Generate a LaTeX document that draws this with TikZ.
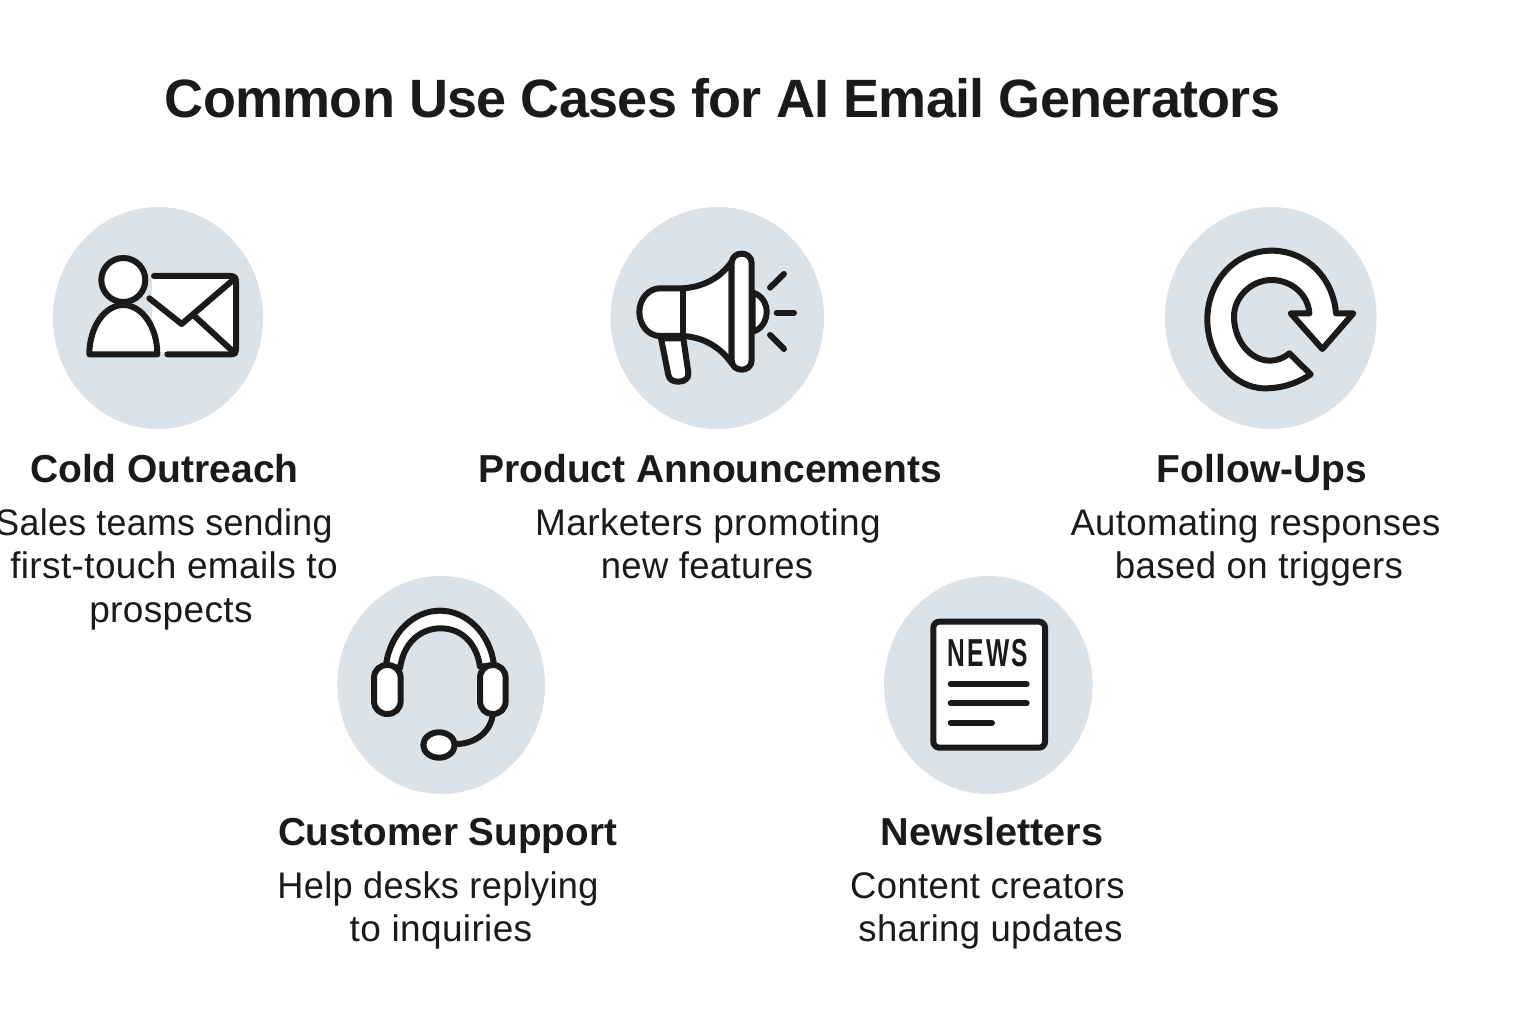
\documentclass[tikz,border=0pt]{standalone}
\usepackage{fontspec}
\setmainfont{Liberation Sans}
\newfontfamily\titlef[LetterSpace=-1.4]{Liberation Sans Bold}
\newfontfamily\headf{Liberation Sans Bold}
\newfontfamily\descf[LetterSpace=1]{Liberation Sans}
\newfontfamily\newsf[LetterSpace=9]{Liberation Sans Bold}
\definecolor{disc}{HTML}{DBE2E8}
\definecolor{ink}{HTML}{1A1A1A}
\tikzset{
  titletext/.style={anchor=base,text=ink,inner sep=0pt,font=\titlef\fontsize{54}{60}\selectfont},
  headtext/.style={anchor=base,text=ink,inner sep=0pt,font=\headf\fontsize{39}{44}\selectfont},
  desctext/.style={anchor=base,text=ink,inner sep=0pt,font=\descf\fontsize{37}{44}\selectfont},
  disk/.style={fill=disc,draw=none},
  icon/.style={draw=ink,line width=6pt,line join=round,line cap=round},
  iconfill/.style={icon,fill=white},
  zoomed/.style={x=0.33333pt,y=-0.33333pt}
}
\begin{document}
\begin{tikzpicture}[x=1pt,y=-1pt]
\useasboundingbox[fill=white] (0,0) rectangle (1536,1024);
\clip (0,0) rectangle (1536,1024);
% discs
\fill[disk] (158,318) ellipse [x radius=105pt,y radius=111pt];
\fill[disk] (717.3,318) ellipse [x radius=106.7pt,y radius=111pt];
\fill[disk] (1270.8,318) ellipse [x radius=105.8pt,y radius=111pt];
\fill[disk] (441.2,685) ellipse [x radius=103.8pt,y radius=109pt];
\fill[disk] (988.3,685) ellipse [x radius=104.3pt,y radius=109pt];
% person + envelope
\begin{scope}[shift={(40,200)},zoomed]
\fill[white] (335,228) -- (588,228) -- (588,463) -- (335,463) -- cycle;
\draw[icon] (342,228) -- (572,228) .. controls (583,228) and (588,233) .. (588,244) -- (588,447) .. controls (588,458) and (583,463) .. (572,463) -- (382,463);
\draw[icon] (328,295) -- (425,372) -- (585,235);
\draw[icon] (460,345) -- (585,460);
\draw[iconfill] (148,463) .. controls (148,380) and (195,315) .. (250,315) .. controls (305,315) and (352,380) .. (352,463) -- cycle;
\draw[iconfill] (250,240) circle [radius=22pt];
\end{scope}
% megaphone
\begin{scope}[shift={(600,200)},zoomed]
\draw[iconfill] (183,415) -- (205,525) .. controls (208,540) and (220,545) .. (235,545) .. controls (255,545) and (267,535) .. (265,518) -- (250,415) -- cycle;
\draw[iconfill] (458,278) .. controls (485,285) and (500,310) .. (500,335) .. controls (500,362) and (485,388) .. (458,395) -- cycle;
\draw[iconfill] (250,265) -- (180,265) .. controls (145,265) and (118,298) .. (118,336) .. controls (118,375) and (145,408) .. (180,408) -- (250,408) .. controls (310,412) and (360,440) .. (395,490) -- (395,185) .. controls (360,235) and (310,260) .. (250,265) -- cycle;
\draw[icon] (250,265) -- (250,408);
\draw[iconfill] (395,190) .. controls (395,170) and (410,161) .. (425,161) .. controls (440,161) and (455,170) .. (455,190) -- (455,480) .. controls (455,500) and (440,509) .. (425,509) .. controls (410,509) and (395,500) .. (395,480) -- cycle;
\draw[icon] (510,263) -- (552,222);
\draw[icon] (530,338) -- (582,338);
\draw[icon] (510,405) -- (552,447);
\end{scope}
% circular arrow
\begin{scope}[shift={(1150,200)},zoomed]
\draw[iconfill] (482,523) .. controls (442,550) and (395,565) .. (345,565) .. controls (250,565) and (172,470) .. (172,358) .. controls (172,245) and (255,152) .. (365,152) .. controls (470,152) and (550,235) .. (558,340) -- (610,340) -- (517,447) -- (422,340) -- (478,340) .. controls (475,285) and (425,240) .. (365,240) .. controls (305,240) and (252,290) .. (252,350) .. controls (252,420) and (300,482) .. (360,482) .. controls (380,482) and (400,475) .. (418,460) -- cycle;
\end{scope}
% headset
\begin{scope}[shift={(320,570)},zoomed]
\draw[iconfill] (198,285) .. controls (210,190) and (280,122) .. (360,122) .. controls (440,122) and (510,190) .. (522,285) -- (480,290) .. controls (470,220) and (425,175) .. (362,175) .. controls (300,175) and (250,220) .. (240,295) -- cycle;
\draw[iconfill] (162,325) .. controls (162,300) and (180,285) .. (202,285) .. controls (224,285) and (242,300) .. (242,325) -- (242,392) .. controls (242,417) and (224,432) .. (202,432) .. controls (180,432) and (162,417) .. (162,392) -- cycle;
\draw[iconfill] (480,325) .. controls (480,300) and (497,285) .. (518,285) .. controls (540,285) and (557,300) .. (557,325) -- (557,392) .. controls (557,417) and (540,432) .. (518,432) .. controls (497,432) and (480,417) .. (480,392) -- cycle;
\draw[icon] (518,432) .. controls (515,480) and (470,522) .. (408,522);
\draw[iconfill] (357,525) ellipse [x radius=15.7pt,y radius=12.7pt];
\end{scope}
% newspaper
\begin{scope}[shift={(870,570)},zoomed]
\draw[iconfill,rounded corners=6pt] (190,155) rectangle (525,533);
\draw[icon] (242,343) -- (470,343);
\draw[icon] (242,400) -- (470,400);
\draw[icon] (242,458) -- (366,458);
\end{scope}
\node[anchor=base,text=ink,inner sep=0pt,xscale=0.63,font=\newsf\fontsize{39}{44}\selectfont] (newslabel) at (988,666) {NEWS};
% text
\node[titletext] (title) at (722.5,118) {Common Use Cases for AI Email Generators};
\node[headtext] (h1) at (164.5,482) {Cold Outreach};
\node[headtext] (h2) at (710,482) {Product Announcements};
\node[headtext] (h3) at (1262,482) {Follow-Ups};
\node[headtext,xscale=0.99] (h4) at (447.5,845) {Customer Support};
\node[headtext,xscale=1.015] (h5) at (992,845) {Newsletters};
\node[desctext,xscale=0.965] (d1a) at (164,535) {Sales teams sending};
\node[desctext] (d1b) at (174,578) {first-touch emails to};
\node[desctext] (d1c) at (171,622) {prospects};
\node[desctext] (d2a) at (708,535) {Marketers promoting};
\node[desctext,xscale=0.985] (d2b) at (707,578) {new features};
\node[desctext,xscale=0.987] (d3a) at (1255.5,535) {Automating responses};
\node[desctext,xscale=0.99] (d3b) at (1259,578) {based on triggers};
\node[desctext,xscale=0.977] (d4a) at (438,898) {Help desks replying};
\node[desctext] (d4b) at (441,941) {to inquiries};
\node[desctext,xscale=0.985] (d5a) at (987.5,898) {Content creators};
\node[desctext,xscale=0.985] (d5b) at (990.5,941) {sharing updates};
\end{tikzpicture}
\end{document}
